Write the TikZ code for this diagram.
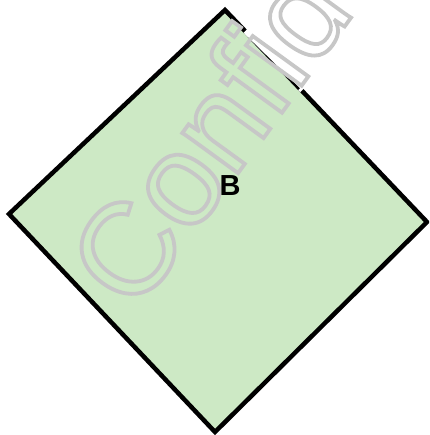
\documentclass[tikz,border=0pt]{standalone}
\usepackage{fontspec}
\usetikzlibrary{calc}
\setmainfont{Liberation Sans}
\definecolor{dfill}{RGB}{205,233,197}
\tikzset{
  shapeline/.style={draw=black, fill=dfill, line width=4.5pt, line join=miter},
  wmark/.style={anchor=base west, rotate=54, inner sep=0pt, font=\fontsize{130}{130}\selectfont},
  label/.style={font=\fontsize{29}{29}\selectfont\bfseries, inner sep=0pt}
}
\begin{document}
\begin{tikzpicture}[x=1pt,y=-1pt]
\useasboundingbox (0,0) rectangle (429,435);
\coordinate (t) at (225,10);
\coordinate (r) at (427,222);
\coordinate (bt) at (215,432);
\coordinate (l) at (9,214);
\begin{scope}
\clip (0,0) rectangle (429,435);
\draw[shapeline] (t) -- (r) -- (bt) -- (l) -- cycle;
% gap in the outline under the watermark letter
\fill[white] ($(t)!0.1!(r)+(2.5,-2.4)$) -- ($(t)!0.38!(r)+(2.5,-2.4)$) -- ($(t)!0.38!(r)+(-1.63,1.55)$) -- ($(t)!0.1!(r)+(-1.63,1.55)$) -- cycle;
\fill[black] ($(t)!0.12!(r)+(-1.63,1.55)$) -- ($(t)!0.37!(r)+(-1.63,1.55)$) -- ($(t)!0.37!(r)+(0.2,-0.2)$) -- cycle;
\node[wmark] (wm) at (135,315) {\special{pdf:literal direct 1 Tr 3.8 w 0.78 G}Confidential\special{pdf:literal direct 0 Tr}};
\end{scope}
\node[label] (b) at (230,186) {B};
\end{tikzpicture}
\end{document}
